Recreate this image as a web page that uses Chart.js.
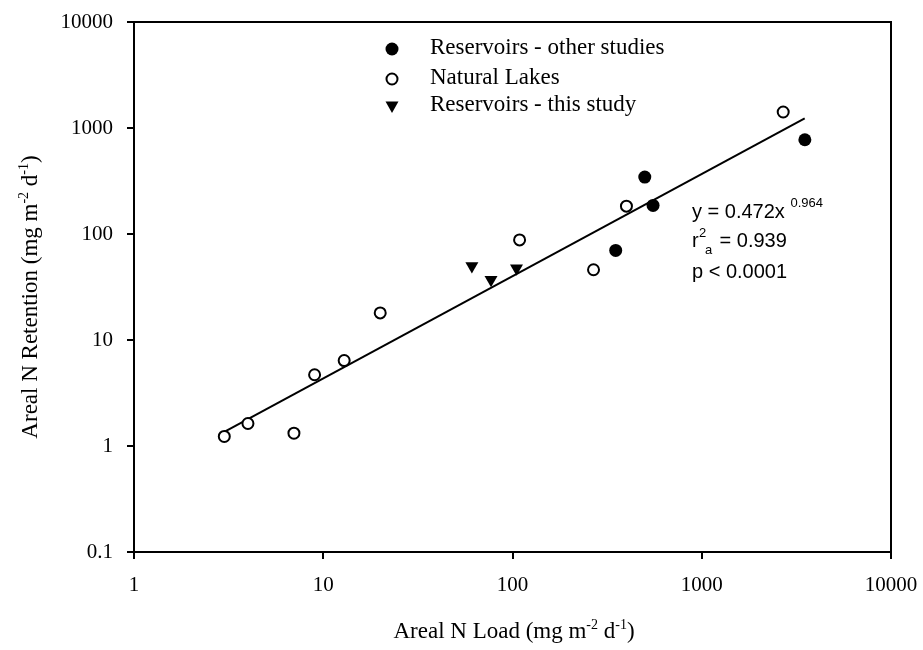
<!DOCTYPE html>
<html>
<head>
<meta charset="utf-8">
<script src="https://cdn.jsdelivr.net/npm/chart.js@4.4.1/dist/chart.umd.min.js"></script>
<style>
  html, body { margin: 0; padding: 0; background: #ffffff; }
  #wrap { width: 923px; height: 650px; }
</style>
</head>
<body>
<div id="wrap"><canvas id="c" width="923" height="650"></canvas></div>
<script>
// ---- Data ----
const reservoirsOther = [[351, 70], [500, 344], [553, 186], [3506, 775]];
const naturalLakes = [[3.0, 1.23], [4.0, 1.63], [7.0, 1.32], [9.0, 4.7], [12.9, 6.4], [20, 18], [109, 88], [268, 46], [400, 183], [2694, 1416]];
const reservoirsThis = [[61, 50], [77, 37], [105, 47.6]];
const fitLine = [[3, 1.36], [3500, 1230]];
const xTicks = [1, 10, 100, 1000, 10000];
const yTicks = [0.1, 1, 10, 100, 1000, 10000];
const legendLabels = ['Reservoirs - other studies', 'Natural Lakes', 'Reservoirs - this study'];

const toPts = a => a.map(p => ({ x: p[0], y: p[1] }));
const SERIF = '"Liberation Serif", "Times New Roman", serif';
const SANS = '"Liberation Sans", Arial, sans-serif';

function drawRich(ctx, segs, x, y, align) {
  let total = 0;
  segs.forEach(s => { ctx.font = s.font; total += ctx.measureText(s.text).width; });
  let cx = align === 'center' ? x - total / 2 : x;
  ctx.textAlign = 'left';
  ctx.textBaseline = 'alphabetic';
  segs.forEach(s => {
    ctx.font = s.font;
    ctx.fillText(s.text, cx, y + (s.dy || 0));
    cx += ctx.measureText(s.text).width;
  });
}

const decor = {
  id: 'decor',
  afterDraw(chart) {
    const ctx = chart.ctx;
    const a = chart.chartArea;
    ctx.save();
    ctx.strokeStyle = '#000';
    ctx.lineWidth = 2;
    ctx.strokeRect(a.left, a.top, a.right - a.left, a.bottom - a.top);
    ctx.fillStyle = '#000';

    // Legend
    const lx = 392, tx = 430;
    const rows = [49, 79, 106];
    ctx.beginPath(); ctx.arc(lx, rows[0], 6.5, 0, Math.PI * 2); ctx.fill();
    ctx.beginPath(); ctx.arc(lx, rows[1], 5.5, 0, Math.PI * 2);
    ctx.fillStyle = '#fff'; ctx.fill(); ctx.lineWidth = 2; ctx.strokeStyle = '#000'; ctx.stroke();
    ctx.fillStyle = '#000';
    ctx.beginPath();
    ctx.moveTo(lx - 6.5, rows[2] - 4.5); ctx.lineTo(lx + 6.5, rows[2] - 4.5); ctx.lineTo(lx, rows[2] + 7);
    ctx.closePath(); ctx.fill();
    ctx.font = '23px ' + SERIF;
    ctx.textAlign = 'left'; ctx.textBaseline = 'middle';
    legendLabels.forEach((t, i) => ctx.fillText(t, tx, rows[i] - 1));

    // Regression annotation
    const big = '20px ' + SANS, small = '13px ' + SANS;
    drawRich(ctx, [{ text: 'y = 0.472x ', font: big }, { text: '0.964', font: small, dy: -11 }], 692, 218, 'left');
    drawRich(ctx, [{ text: 'r', font: big }], 692, 247, 'left');
    ctx.font = small; ctx.fillText('2', 699, 237);
    ctx.fillText('a', 705, 254);
    ctx.font = big; ctx.fillText(' = 0.939', 714, 247);
    drawRich(ctx, [{ text: 'p < 0.0001', font: big }], 692, 278, 'left');

    // Axis titles
    const tf = '23px ' + SERIF, sf = '14px ' + SERIF;
    drawRich(ctx, [
      { text: 'Areal N Load (mg m', font: tf },
      { text: '-2', font: sf, dy: -9 },
      { text: ' d', font: tf },
      { text: '-1', font: sf, dy: -9 },
      { text: ')', font: tf }
    ], 514, 638, 'center');

    ctx.translate(37, 297);
    ctx.rotate(-Math.PI / 2);
    drawRich(ctx, [
      { text: 'Areal N Retention (mg m', font: tf },
      { text: '-2', font: sf, dy: -9 },
      { text: ' d', font: tf },
      { text: '-1', font: sf, dy: -9 },
      { text: ')', font: tf }
    ], 0, 0, 'center');
    ctx.restore();
  }
};

new Chart(document.getElementById('c'), {
  type: 'scatter',
  data: {
    datasets: [
      {
        label: 'Fit', type: 'line', data: toPts(fitLine),
        borderColor: '#000', borderWidth: 2, pointRadius: 0, fill: false, order: 10
      },
      {
        label: legendLabels[1], data: toPts(naturalLakes),
        pointStyle: 'circle', pointRadius: 5.5, pointBackgroundColor: '#fff',
        pointBorderColor: '#000', pointBorderWidth: 2, order: 1
      },
      {
        label: legendLabels[0], data: toPts(reservoirsOther),
        pointStyle: 'circle', pointRadius: 6.5, pointBackgroundColor: '#000',
        pointBorderColor: '#000', pointBorderWidth: 0, order: 1
      },
      {
        label: legendLabels[2], data: toPts(reservoirsThis),
        pointStyle: 'triangle', rotation: 180, pointRadius: 7.5, pointBackgroundColor: '#000',
        pointBorderColor: '#000', pointBorderWidth: 0, order: 1
      }
    ]
  },
  options: {
    responsive: false,
    animation: false,
    devicePixelRatio: 1,
    layout: { padding: { top: 22, right: 32, left: 0, bottom: 0 } },
    plugins: { legend: { display: false }, tooltip: { enabled: false } },
    scales: {
      x: {
        type: 'logarithmic', min: 1, max: 10000,
        afterBuildTicks: s => { s.ticks = xTicks.map(v => ({ value: v })); },
        afterFit: s => { s.height = 98; s.paddingLeft = 0; s.paddingRight = 0; },
        grid: { drawOnChartArea: false, drawTicks: true, tickLength: 7, color: '#000', lineWidth: 2 },
        border: { display: true, color: '#000', width: 2 },
        ticks: {
          color: '#000', padding: 14, maxRotation: 0, autoSkip: false,
          font: { family: SERIF, size: 21 },
          callback: v => String(v)
        }
      },
      y: {
        type: 'logarithmic', min: 0.1, max: 10000,
        afterBuildTicks: s => { s.ticks = yTicks.map(v => ({ value: v })); },
        afterFit: s => { s.width = 134; s.paddingTop = 0; s.paddingBottom = 0; },
        grid: { drawOnChartArea: false, drawTicks: true, tickLength: 7, color: '#000', lineWidth: 2 },
        border: { display: true, color: '#000', width: 2 },
        ticks: {
          color: '#000', padding: 14, autoSkip: false,
          font: { family: SERIF, size: 21 },
          callback: v => String(v)
        }
      }
    }
  },
  plugins: [decor]
});
</script>
</body>
</html>
